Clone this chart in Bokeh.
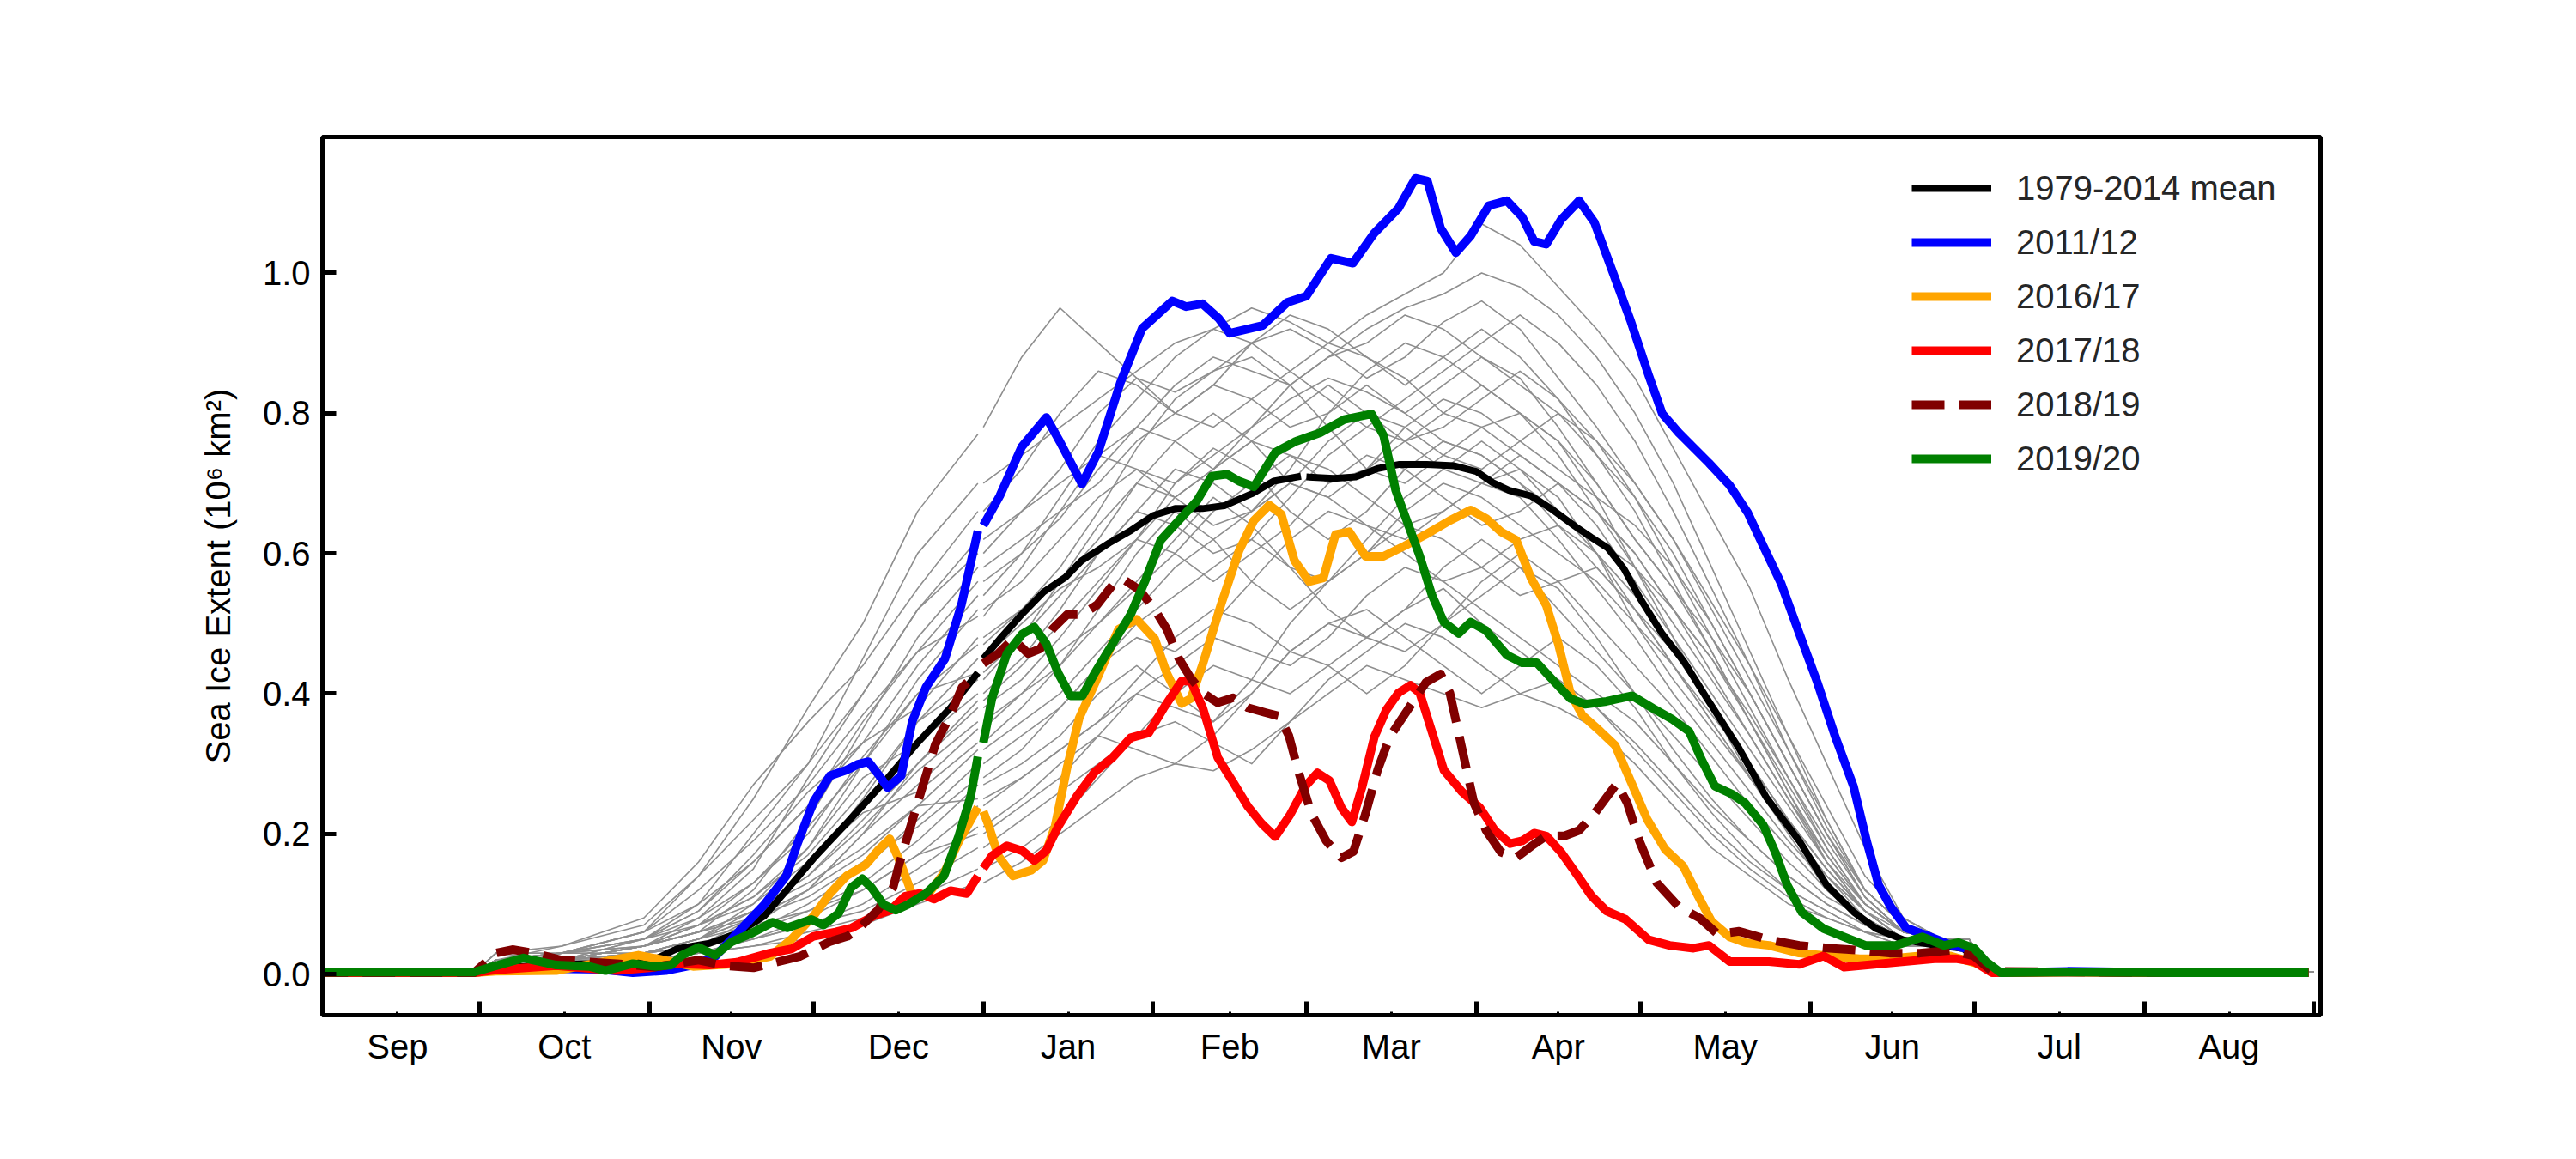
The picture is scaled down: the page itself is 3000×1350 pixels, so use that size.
import numpy as np
from bokeh.plotting import figure
from bokeh.models import Range1d, FixedTicker, PrintfTickFormatter, CustomJSTickFormatter
from bokeh.embed import file_html
from bokeh.resources import INLINE

# ---------------- data (x = days since 1 September) ----------------
MONTHS = ["Sep", "Oct", "Nov", "Dec", "Jan", "Feb", "Mar", "Apr", "May", "Jun", "Jul", "Aug"]
MONTH_LENGTHS = [30, 31, 30, 31, 31, 28, 31, 30, 31, 30, 31, 31]
Y_TICKS = [0.0, 0.2, 0.4, 0.6, 0.8, 1.0]

# 1979-2014 mean (three pieces: Sep-Dec, Jan-Feb, Mar-Aug)
MEAN_D1 = [0, 29, 33, 40, 50, 62, 66, 72, 77, 82, 86, 91, 97, 104, 110, 116, 121]
MEAN_V1 = [0.003, 0.003, 0.008, 0.012, 0.015, 0.021, 0.036, 0.044, 0.058, 0.083, 0.119, 0.165, 0.215, 0.275, 0.33,
           0.38, 0.43]
MEAN_D2 = [122, 125, 129, 133, 137, 140, 145, 149, 153, 157, 162, 166, 171, 175, 180]
MEAN_V2 = [0.450, 0.478, 0.513, 0.545, 0.566, 0.590, 0.615, 0.633, 0.654, 0.664, 0.664, 0.668, 0.685, 0.703, 0.710]
MEAN_D3 = [181, 186, 190, 194, 198, 203, 208, 212, 215, 218, 222, 226, 230, 233, 236, 239, 242, 246, 250, 254,
           260, 265, 271, 276, 281, 285, 290, 296, 301, 303, 306, 320, 340, 364]
MEAN_V3 = [0.709, 0.707, 0.709, 0.721, 0.727, 0.727, 0.725, 0.717, 0.701, 0.690, 0.682, 0.662, 0.639, 0.623, 0.608,
           0.578, 0.535, 0.485, 0.445, 0.395, 0.322, 0.252, 0.190, 0.127, 0.088, 0.065, 0.049, 0.041, 0.037, 0.02,
           0.003, 0.003, 0.002, 0.002]

# 2011/12
Y1112_D1 = [0, 29, 33, 40, 52, 58, 64, 69, 73, 77, 82, 86, 88, 91, 94, 97, 99, 101, 103, 104.5, 107, 109, 111.5, 115,
            118, 121]
Y1112_V1 = [0.002, 0.002, 0.006, 0.008, 0.007, 0.002, 0.005, 0.013, 0.025, 0.058, 0.099, 0.14, 0.185, 0.246, 0.283,
            0.291, 0.299, 0.303, 0.283, 0.266, 0.283, 0.36, 0.409, 0.45, 0.527, 0.632]
Y1112_D2 = [122, 125, 129, 133.5, 136, 140, 143, 147, 151, 156.5, 159, 162, 165, 167, 173, 177.5, 181, 185.5, 189.5,
            193.4, 197.8, 200.9, 203.1, 205.5, 208.3, 211, 214.3, 217.6, 220.4, 222.6, 224.8, 227.5, 230.8, 233.6,
            236.9, 240.2, 243.5, 246, 249, 254.5, 258.3, 261.6, 264.4, 267.7, 271, 274.3, 277.6, 280.9, 283.3, 285.5,
            287.7, 290.5, 294.3, 298.5, 302.9, 305.6, 307.6, 320, 340, 364]
Y1112_V2 = [0.64, 0.682, 0.752, 0.794, 0.759, 0.699, 0.745, 0.843, 0.921, 0.96, 0.952, 0.956, 0.935, 0.914, 0.925,
            0.958, 0.967, 1.021, 1.014, 1.057, 1.092, 1.135, 1.131, 1.064, 1.029, 1.053, 1.096, 1.103, 1.080, 1.045,
            1.041, 1.076, 1.103, 1.072, 1.002, 0.932, 0.854, 0.799, 0.772, 0.729, 0.697, 0.658, 0.611, 0.557, 0.486,
            0.416, 0.338, 0.268, 0.19, 0.127, 0.096, 0.066, 0.055, 0.042, 0.034, 0.01, 0.002, 0.004, 0.002, 0.002]

# 2016/17
Y1617_D1 = [0, 29, 33, 44, 55, 59, 63, 69, 77, 83, 87, 91, 94, 97, 100.5, 102.7, 104.9, 107, 109.3, 112, 114.8,
            117.5, 121]
Y1617_V1 = [0.002, 0.002, 0.004, 0.005, 0.021, 0.027, 0.021, 0.011, 0.015, 0.025, 0.05, 0.083, 0.115, 0.14, 0.156,
            0.176, 0.193, 0.156, 0.107, 0.115, 0.144, 0.189, 0.238]
Y1617_D2 = [122, 123, 124.7, 127.4, 130.7, 132.9, 135.1, 137.3, 139.5, 142.8, 146.7, 150, 153.3, 155.5, 158.2, 159.9,
            162.1, 165.4, 168.7, 171.4, 174.2, 176.4, 178.8, 181.5, 184.1, 186.3, 188.8, 191.8, 195.1, 199, 202.8,
            207.2, 211, 213.8, 216.5, 219.3, 222, 224.8, 227, 229.2, 231.4, 234.7, 237.4, 240.4, 243.2, 246.5, 249.8,
            252.5, 255, 258.3, 261.1, 265.5, 271, 276.5, 282, 287.5, 293, 298.5, 304, 307.8, 320, 340, 364]
Y1617_V2 = [0.232, 0.211, 0.169, 0.14, 0.148, 0.162, 0.211, 0.295, 0.365, 0.422, 0.492, 0.506, 0.478, 0.429, 0.386,
            0.393, 0.443, 0.527, 0.604, 0.647, 0.669, 0.656, 0.59, 0.56, 0.565, 0.627, 0.631, 0.596, 0.596, 0.611,
            0.627, 0.647, 0.662, 0.650, 0.631, 0.619, 0.565, 0.526, 0.471, 0.401, 0.369, 0.346, 0.326, 0.272, 0.221,
            0.178, 0.154, 0.112, 0.075, 0.053, 0.045, 0.041, 0.030, 0.026, 0.022, 0.022, 0.026, 0.026, 0.014, 0.002,
            0.003, 0.002, 0.002]

# 2017/18
Y1718_D1 = [0, 29, 33, 44, 50, 55, 61, 66, 72, 77, 83, 87, 91, 95, 98, 102, 105, 107.7, 110.4, 113, 116, 119, 121]
Y1718_V1 = [0.002, 0.002, 0.006, 0.012, 0.008, 0.005, 0.009, 0.015, 0.013, 0.017, 0.03, 0.036, 0.054, 0.06, 0.066,
            0.083, 0.091, 0.111, 0.115, 0.107, 0.119, 0.115, 0.14]
Y1718_D2 = [122, 123.6, 126.3, 129.1, 131.3, 133.5, 135.7, 139, 142.3, 145.6, 148.9, 152.2, 154.9, 158.2, 159.9,
            162.1, 164.8, 167.6, 170.3, 172.8, 175.3, 178, 180.8, 183, 185.2, 187.4, 189.3, 191.2, 193.4, 195.6,
            197.8, 200, 201.7, 203.9, 206.1, 209.4, 212.7, 215.4, 218.2, 220.4, 222.6, 224.8, 227.5, 230.3, 233,
            235.8, 239.3, 243.5, 247.3, 251.7, 254.5, 258.3, 265.5, 271, 275.4, 279.2, 284.7, 290.2, 295.7, 299.6,
            302.9, 306.2, 320, 340, 364]
Y1718_V2 = [0.151, 0.169, 0.183, 0.176, 0.162, 0.176, 0.211, 0.253, 0.288, 0.309, 0.337, 0.344, 0.379, 0.418, 0.418,
            0.379, 0.309, 0.274, 0.239, 0.215, 0.196, 0.227, 0.268, 0.287, 0.276, 0.237, 0.217, 0.268, 0.338, 0.377,
            0.401, 0.412, 0.401, 0.346, 0.291, 0.260, 0.237, 0.205, 0.186, 0.190, 0.201, 0.197, 0.174, 0.143, 0.112,
            0.090, 0.078, 0.049, 0.041, 0.037, 0.041, 0.018, 0.018, 0.014, 0.026, 0.010, 0.014, 0.018, 0.022, 0.022,
            0.018, 0.002, 0.003, 0.002, 0.002]

# 2018/19
Y1819_D1 = [0, 29, 33, 36, 40, 45, 55, 62, 70, 75, 80, 88.4, 93.9, 97.2, 99.4, 102.7, 105.5, 106.6, 108.8, 111,
            113.2, 115.9, 118.1, 121]
Y1819_V1 = [0.002, 0.002, 0.03, 0.035, 0.03, 0.02, 0.015, 0.01, 0.02, 0.012, 0.009, 0.025, 0.046, 0.054, 0.066,
            0.091, 0.123, 0.156, 0.213, 0.27, 0.327, 0.368, 0.409, 0.43]
Y1819_D2 = [122, 124.7, 127.4, 130.2, 132.4, 134.6, 137.3, 140.1, 142.8, 145.6, 147.8, 150.5, 153.3, 155.5, 157.7,
            159.9, 162.1, 164.8, 167.6, 170.3, 173.5, 176, 177.8, 179.5, 181.9, 184.6, 187.4, 189.6, 191.8, 194,
            196.2, 199.5, 202.8, 205.5, 207.2, 209.4, 211.6, 213.8, 216.5, 219.3, 222, 224.8, 228.1, 230.8, 233.6,
            235.8, 237.7, 239.6, 241.8, 245, 249, 252.8, 256.1, 260, 265.5, 271, 276.5, 282, 287.5, 293, 298.5,
            302.9, 306.2, 320, 340, 364]
Y1819_V2 = [0.443, 0.457, 0.478, 0.457, 0.464, 0.492, 0.513, 0.513, 0.527, 0.555, 0.562, 0.548, 0.520, 0.492, 0.450,
            0.422, 0.401, 0.387, 0.394, 0.380, 0.373, 0.368, 0.34, 0.29, 0.229, 0.190, 0.166, 0.175, 0.229, 0.291,
            0.338, 0.377, 0.416, 0.428, 0.401, 0.322, 0.244, 0.205, 0.174, 0.166, 0.182, 0.197, 0.197, 0.205, 0.229,
            0.252, 0.272, 0.244, 0.19, 0.13, 0.096, 0.080, 0.057, 0.061, 0.049, 0.041, 0.037, 0.034, 0.030, 0.030,
            0.034, 0.026, 0.004, 0.003, 0.002, 0.002]

# 2019/20
Y1920_D1 = [0, 29, 33, 38, 44, 50, 53, 58, 62, 65, 67, 70, 73, 76, 79.6, 83.5, 86.2, 90.6, 92.8, 95.6, 97.8, 99.9,
            101.6, 103.8, 106, 108.2, 111.5, 114.8, 117.5, 119.7, 121]
Y1920_V1 = [0.003, 0.003, 0.012, 0.023, 0.013, 0.011, 0.005, 0.015, 0.011, 0.013, 0.027, 0.038, 0.027, 0.046, 0.058,
            0.074, 0.066, 0.078, 0.07, 0.087, 0.123, 0.136, 0.123, 0.099, 0.091, 0.099, 0.115, 0.14, 0.197, 0.254, 0.31]
Y1920_D2 = [122, 123.6, 126.3, 129.1, 131.3, 133.5, 135.7, 137.9, 140.1, 142.3, 145.6, 148.9, 151.6, 154.4, 157.7,
            161, 163.7, 166.5, 168.7, 171.4, 175.3, 179.1, 183.5, 187.9, 192.9, 195.1, 197.3, 199.5, 201.7, 203.9,
            206.1, 208.8, 211, 213.8, 217.6, 220.4, 223.1, 226.4, 229.2, 231.9, 235.8, 240.5, 244.3, 247.9, 250.9,
            253.1, 255.6, 258.9, 261.1, 264.4, 266.6, 268.8, 271.5, 275.4, 279.2, 283.1, 288.6, 293.5, 297.4, 300.1,
            302.9, 305.1, 307.8, 320, 340, 364]
Y1920_V2 = [0.33, 0.394, 0.457, 0.485, 0.495, 0.471, 0.429, 0.397, 0.397, 0.429, 0.471, 0.513, 0.562, 0.619, 0.647,
            0.675, 0.710, 0.713, 0.703, 0.695, 0.744, 0.760, 0.772, 0.791, 0.799, 0.768, 0.690, 0.643, 0.596, 0.541,
            0.502, 0.486, 0.502, 0.490, 0.455, 0.444, 0.444, 0.416, 0.393, 0.385, 0.389, 0.397, 0.379, 0.363, 0.346,
            0.307, 0.268, 0.256, 0.244, 0.213, 0.174, 0.127, 0.088, 0.065, 0.053, 0.041, 0.041, 0.053, 0.041, 0.045,
            0.037, 0.018, 0.002, 0.003, 0.002, 0.002]

# individual years (grey), Sep-Dec and Jan-Aug
GREY_D1 = [0, 29, 33, 45, 60, 70, 80, 90, 100, 110, 121]
GREY_FALL = [
    [0.002, 0.002, 0.01, 0.03, 0.06, 0.14, 0.25, 0.38, 0.50, 0.66, 0.77],
    [0.002, 0.002, 0.02, 0.03, 0.05, 0.10, 0.20, 0.30, 0.45, 0.60, 0.70],
    [0.002, 0.002, 0.01, 0.02, 0.04, 0.08, 0.15, 0.28, 0.40, 0.52, 0.62],
    [0.002, 0.002, 0.03, 0.02, 0.04, 0.06, 0.12, 0.22, 0.35, 0.48, 0.58],
    [0.002, 0.002, 0.01, 0.02, 0.03, 0.05, 0.10, 0.18, 0.30, 0.42, 0.52],
    [0.002, 0.002, 0.02, 0.03, 0.05, 0.09, 0.17, 0.26, 0.33, 0.38, 0.48],
    [0.002, 0.002, 0.01, 0.02, 0.02, 0.04, 0.08, 0.15, 0.25, 0.36, 0.45],
    [0.002, 0.002, 0.02, 0.02, 0.04, 0.07, 0.11, 0.18, 0.28, 0.33, 0.40],
    [0.002, 0.002, 0.01, 0.01, 0.03, 0.05, 0.09, 0.14, 0.22, 0.30, 0.38],
    [0.002, 0.002, 0.02, 0.03, 0.04, 0.06, 0.08, 0.12, 0.20, 0.27, 0.35],
    [0.002, 0.002, 0.01, 0.02, 0.03, 0.04, 0.07, 0.12, 0.17, 0.24, 0.32],
    [0.002, 0.002, 0.01, 0.01, 0.02, 0.04, 0.06, 0.10, 0.15, 0.22, 0.30],
    [0.002, 0.002, 0.02, 0.02, 0.03, 0.05, 0.07, 0.09, 0.13, 0.19, 0.27],
    [0.002, 0.002, 0.01, 0.02, 0.02, 0.03, 0.05, 0.08, 0.12, 0.17, 0.24],
    [0.002, 0.002, 0.01, 0.01, 0.02, 0.03, 0.05, 0.07, 0.10, 0.15, 0.21],
    [0.002, 0.002, 0.02, 0.03, 0.03, 0.04, 0.05, 0.07, 0.09, 0.13, 0.18],
    [0.002, 0.002, 0.01, 0.01, 0.02, 0.03, 0.04, 0.06, 0.08, 0.11, 0.15],
    [0.002, 0.002, 0.01, 0.02, 0.02, 0.03, 0.04, 0.05, 0.07, 0.10, 0.13],
    [0.002, 0.002, 0.01, 0.02, 0.05, 0.09, 0.16, 0.24, 0.36, 0.46, 0.56],
    [0.002, 0.002, 0.02, 0.02, 0.04, 0.07, 0.13, 0.21, 0.30, 0.40, 0.43],
    [0.002, 0.002, 0.02, 0.04, 0.08, 0.16, 0.27, 0.36, 0.44, 0.55, 0.66],
    [0.002, 0.002, 0.03, 0.03, 0.06, 0.12, 0.19, 0.27, 0.37, 0.46, 0.51],
    [0.002, 0.002, 0.01, 0.02, 0.05, 0.08, 0.13, 0.20, 0.31, 0.40, 0.47],
    [0.002, 0.002, 0.02, 0.03, 0.04, 0.07, 0.11, 0.17, 0.26, 0.36, 0.42],
    [0.002, 0.002, 0.01, 0.02, 0.04, 0.06, 0.09, 0.14, 0.21, 0.29, 0.36],
    [0.002, 0.002, 0.02, 0.03, 0.05, 0.07, 0.10, 0.16, 0.23, 0.26, 0.33],
    [0.002, 0.002, 0.01, 0.02, 0.03, 0.05, 0.08, 0.11, 0.16, 0.21, 0.28],
    [0.002, 0.002, 0.02, 0.02, 0.04, 0.06, 0.09, 0.13, 0.18, 0.24, 0.25],
    [0.002, 0.002, 0.03, 0.04, 0.07, 0.14, 0.22, 0.30, 0.40, 0.52, 0.60],
    [0.002, 0.002, 0.01, 0.02, 0.03, 0.04, 0.06, 0.09, 0.12, 0.17, 0.20],
    [0.002, 0.002, 0.02, 0.03, 0.06, 0.10, 0.16, 0.24, 0.33, 0.44, 0.54],
    [0.002, 0.002, 0.02, 0.02, 0.03, 0.05, 0.08, 0.12, 0.20, 0.30, 0.39],
]
GREY_D2 = [122, 129, 136, 143, 150, 157, 164, 171, 178, 185, 192, 199, 206, 213, 220, 227, 234, 241, 248, 255,
           262, 269, 276, 283, 290, 297, 302, 306, 365]
GREY_SPRING = [
    [0.78, 0.88, 0.95, 0.90, 0.85, 0.80, 0.78, 0.82, 0.86, 0.90, 0.88, 0.85, 0.80, 0.78, 0.74, 0.70, 0.66, 0.60, 0.52, 0.45, 0.36, 0.27, 0.18, 0.10, 0.06, 0.05, 0.04, 0.003, 0.003],
    [0.70, 0.74, 0.78, 0.82, 0.86, 0.90, 0.92, 0.95, 0.93, 0.90, 0.94, 0.97, 1.00, 1.07, 1.04, 0.98, 0.92, 0.85, 0.75, 0.65, 0.55, 0.42, 0.30, 0.18, 0.08, 0.05, 0.05, 0.004, 0.003],
    [0.62, 0.66, 0.72, 0.80, 0.85, 0.83, 0.86, 0.90, 0.92, 0.89, 0.85, 0.88, 0.93, 0.96, 0.92, 0.85, 0.78, 0.70, 0.62, 0.52, 0.42, 0.32, 0.22, 0.12, 0.07, 0.05, 0.05, 0.003, 0.003],
    [0.58, 0.62, 0.66, 0.70, 0.76, 0.80, 0.84, 0.82, 0.78, 0.80, 0.86, 0.90, 0.88, 0.84, 0.80, 0.76, 0.70, 0.62, 0.55, 0.46, 0.36, 0.26, 0.16, 0.09, 0.05, 0.04, 0.04, 0.003, 0.003],
    [0.52, 0.56, 0.62, 0.68, 0.72, 0.70, 0.74, 0.78, 0.82, 0.85, 0.83, 0.80, 0.84, 0.88, 0.85, 0.78, 0.70, 0.62, 0.55, 0.48, 0.40, 0.30, 0.20, 0.11, 0.06, 0.05, 0.04, 0.003, 0.003],
    [0.48, 0.52, 0.58, 0.66, 0.75, 0.82, 0.86, 0.88, 0.84, 0.78, 0.72, 0.70, 0.74, 0.78, 0.80, 0.76, 0.68, 0.58, 0.48, 0.38, 0.28, 0.20, 0.12, 0.07, 0.05, 0.04, 0.04, 0.003, 0.003],
    [0.45, 0.50, 0.55, 0.58, 0.62, 0.68, 0.72, 0.76, 0.74, 0.70, 0.72, 0.78, 0.82, 0.80, 0.76, 0.72, 0.68, 0.64, 0.58, 0.50, 0.40, 0.30, 0.20, 0.12, 0.07, 0.05, 0.04, 0.003, 0.003],
    [0.40, 0.45, 0.52, 0.60, 0.66, 0.64, 0.60, 0.62, 0.68, 0.74, 0.78, 0.76, 0.72, 0.70, 0.74, 0.70, 0.64, 0.56, 0.48, 0.40, 0.32, 0.24, 0.16, 0.10, 0.06, 0.05, 0.05, 0.003, 0.003],
    [0.38, 0.42, 0.48, 0.55, 0.62, 0.70, 0.75, 0.72, 0.66, 0.62, 0.66, 0.72, 0.76, 0.74, 0.70, 0.66, 0.62, 0.58, 0.52, 0.45, 0.37, 0.28, 0.19, 0.11, 0.06, 0.05, 0.04, 0.003, 0.003],
    [0.35, 0.40, 0.46, 0.50, 0.55, 0.60, 0.66, 0.70, 0.74, 0.72, 0.68, 0.64, 0.66, 0.70, 0.72, 0.68, 0.60, 0.50, 0.42, 0.35, 0.28, 0.21, 0.14, 0.08, 0.05, 0.04, 0.04, 0.003, 0.003],
    [0.32, 0.36, 0.40, 0.46, 0.52, 0.58, 0.62, 0.66, 0.70, 0.68, 0.64, 0.62, 0.66, 0.70, 0.68, 0.62, 0.55, 0.48, 0.40, 0.33, 0.26, 0.19, 0.13, 0.08, 0.05, 0.04, 0.04, 0.003, 0.003],
    [0.30, 0.34, 0.38, 0.44, 0.48, 0.46, 0.50, 0.56, 0.62, 0.66, 0.64, 0.60, 0.56, 0.58, 0.62, 0.64, 0.60, 0.54, 0.46, 0.38, 0.30, 0.22, 0.15, 0.09, 0.05, 0.04, 0.04, 0.003, 0.003],
    [0.27, 0.30, 0.34, 0.40, 0.44, 0.40, 0.36, 0.42, 0.50, 0.56, 0.60, 0.64, 0.62, 0.58, 0.54, 0.56, 0.58, 0.52, 0.44, 0.36, 0.28, 0.21, 0.14, 0.09, 0.05, 0.04, 0.04, 0.003, 0.003],
    [0.24, 0.28, 0.32, 0.36, 0.40, 0.44, 0.48, 0.46, 0.44, 0.48, 0.54, 0.58, 0.56, 0.52, 0.48, 0.44, 0.40, 0.36, 0.30, 0.24, 0.19, 0.14, 0.10, 0.07, 0.05, 0.04, 0.04, 0.003, 0.003],
    [0.21, 0.25, 0.30, 0.34, 0.32, 0.30, 0.34, 0.40, 0.46, 0.50, 0.48, 0.46, 0.50, 0.54, 0.58, 0.55, 0.48, 0.40, 0.32, 0.25, 0.19, 0.14, 0.10, 0.07, 0.05, 0.04, 0.04, 0.003, 0.003],
    [0.18, 0.22, 0.26, 0.30, 0.34, 0.36, 0.33, 0.30, 0.36, 0.42, 0.46, 0.50, 0.48, 0.44, 0.40, 0.38, 0.35, 0.30, 0.24, 0.18, 0.14, 0.10, 0.08, 0.06, 0.05, 0.04, 0.04, 0.003, 0.003],
    [0.15, 0.18, 0.22, 0.28, 0.34, 0.40, 0.44, 0.42, 0.40, 0.44, 0.48, 0.52, 0.55, 0.50, 0.46, 0.42, 0.38, 0.33, 0.27, 0.21, 0.16, 0.12, 0.09, 0.06, 0.05, 0.04, 0.04, 0.003, 0.003],
    [0.13, 0.16, 0.20, 0.24, 0.28, 0.30, 0.29, 0.32, 0.36, 0.40, 0.44, 0.42, 0.40, 0.38, 0.40, 0.42, 0.38, 0.32, 0.26, 0.20, 0.15, 0.11, 0.08, 0.06, 0.04, 0.04, 0.03, 0.003, 0.003],
    [0.56, 0.60, 0.65, 0.72, 0.78, 0.84, 0.88, 0.86, 0.84, 0.88, 0.92, 0.95, 0.97, 1.00, 0.98, 0.94, 0.88, 0.80, 0.70, 0.58, 0.46, 0.34, 0.22, 0.12, 0.07, 0.05, 0.05, 0.003, 0.003],
    [0.43, 0.48, 0.54, 0.60, 0.66, 0.72, 0.70, 0.66, 0.70, 0.76, 0.80, 0.78, 0.74, 0.72, 0.76, 0.80, 0.76, 0.70, 0.62, 0.53, 0.44, 0.34, 0.24, 0.14, 0.08, 0.05, 0.05, 0.003, 0.003],
    [0.66, 0.72, 0.80, 0.86, 0.84, 0.80, 0.84, 0.90, 0.94, 0.92, 0.88, 0.84, 0.88, 0.92, 0.88, 0.82, 0.76, 0.68, 0.58, 0.48, 0.38, 0.28, 0.18, 0.10, 0.06, 0.05, 0.04, 0.003, 0.003],
    [0.51, 0.58, 0.66, 0.74, 0.78, 0.76, 0.72, 0.76, 0.80, 0.84, 0.80, 0.76, 0.78, 0.82, 0.86, 0.82, 0.74, 0.66, 0.56, 0.46, 0.36, 0.26, 0.17, 0.10, 0.06, 0.05, 0.04, 0.003, 0.003],
    [0.47, 0.52, 0.56, 0.62, 0.70, 0.76, 0.80, 0.76, 0.70, 0.68, 0.72, 0.76, 0.80, 0.84, 0.80, 0.74, 0.66, 0.58, 0.50, 0.42, 0.34, 0.25, 0.16, 0.09, 0.05, 0.04, 0.04, 0.003, 0.003],
    [0.42, 0.48, 0.56, 0.64, 0.70, 0.68, 0.64, 0.66, 0.72, 0.80, 0.84, 0.80, 0.76, 0.74, 0.70, 0.64, 0.58, 0.52, 0.46, 0.38, 0.30, 0.22, 0.15, 0.09, 0.06, 0.05, 0.04, 0.003, 0.003],
    [0.36, 0.40, 0.44, 0.50, 0.56, 0.62, 0.68, 0.64, 0.58, 0.56, 0.60, 0.66, 0.70, 0.68, 0.64, 0.60, 0.56, 0.50, 0.44, 0.37, 0.30, 0.22, 0.15, 0.09, 0.05, 0.04, 0.04, 0.003, 0.003],
    [0.33, 0.38, 0.44, 0.52, 0.60, 0.66, 0.62, 0.56, 0.52, 0.56, 0.62, 0.68, 0.72, 0.76, 0.72, 0.66, 0.60, 0.52, 0.44, 0.36, 0.28, 0.21, 0.14, 0.09, 0.05, 0.04, 0.04, 0.003, 0.003],
    [0.28, 0.32, 0.38, 0.44, 0.50, 0.54, 0.58, 0.62, 0.58, 0.52, 0.48, 0.52, 0.58, 0.62, 0.58, 0.52, 0.46, 0.40, 0.34, 0.28, 0.22, 0.16, 0.11, 0.08, 0.05, 0.04, 0.04, 0.003, 0.003],
    [0.25, 0.28, 0.32, 0.36, 0.42, 0.48, 0.52, 0.50, 0.46, 0.44, 0.40, 0.44, 0.50, 0.56, 0.60, 0.56, 0.50, 0.44, 0.38, 0.31, 0.24, 0.18, 0.12, 0.08, 0.05, 0.04, 0.04, 0.003, 0.003],
    [0.60, 0.66, 0.70, 0.74, 0.72, 0.68, 0.72, 0.78, 0.84, 0.88, 0.90, 0.94, 0.92, 0.88, 0.84, 0.80, 0.74, 0.68, 0.60, 0.50, 0.40, 0.30, 0.20, 0.11, 0.06, 0.05, 0.05, 0.003, 0.003],
    [0.20, 0.24, 0.28, 0.34, 0.40, 0.38, 0.36, 0.40, 0.46, 0.50, 0.52, 0.48, 0.44, 0.40, 0.44, 0.48, 0.44, 0.38, 0.30, 0.23, 0.17, 0.12, 0.09, 0.06, 0.04, 0.04, 0.03, 0.003, 0.003],
    [0.54, 0.60, 0.68, 0.76, 0.82, 0.88, 0.92, 0.90, 0.86, 0.82, 0.78, 0.82, 0.86, 0.90, 0.94, 0.90, 0.84, 0.76, 0.66, 0.55, 0.44, 0.32, 0.21, 0.12, 0.07, 0.05, 0.05, 0.003, 0.003],
    [0.39, 0.44, 0.50, 0.56, 0.62, 0.60, 0.56, 0.60, 0.64, 0.70, 0.74, 0.72, 0.68, 0.64, 0.66, 0.70, 0.66, 0.60, 0.52, 0.43, 0.34, 0.25, 0.17, 0.10, 0.06, 0.05, 0.04, 0.003, 0.003],
]

SERIES = [
    ("1979-2014 mean", "black", [(MEAN_D1, MEAN_V1), (MEAN_D2, MEAN_V2), (MEAN_D3, MEAN_V3)], False),
    ("2011/12", "#0000ff", [(Y1112_D1, Y1112_V1), (Y1112_D2, Y1112_V2)], False),
    ("2016/17", "#ffa500", [(Y1617_D1, Y1617_V1), (Y1617_D2, Y1617_V2)], False),
    ("2017/18", "#ff0000", [(Y1718_D1, Y1718_V1), (Y1718_D2, Y1718_V2)], False),
    ("2018/19", "#800000", [(Y1819_D1, Y1819_V1), (Y1819_D2, Y1819_V2)], True),
    ("2019/20", "#008000", [(Y1920_D1, Y1920_V1), (Y1920_D2, Y1920_V2)], False),
]

FONT = "Liberation Sans"

# ---------------- figure ----------------
p = figure(width=2984, height=1334, output_backend="svg", toolbar_location=None,
           x_range=Range1d(1.3, 366.2), y_range=Range1d(-0.0586, 1.194),
           min_border_left=375, min_border_right=282, min_border_top=159, min_border_bottom=152)
p.background_fill_color = "white"
p.border_fill_color = "white"
p.outline_line_color = "black"
p.outline_line_width = 5
p.xgrid.visible = False
p.ygrid.visible = False

# grey years
grey_xs = [GREY_D1] * len(GREY_FALL) + [GREY_D2] * len(GREY_SPRING)
grey_ys = GREY_FALL + GREY_SPRING
p.multi_line(xs=grey_xs, ys=grey_ys, line_color="#8e8e8e", line_width=1.6, line_join="round")

for name, color, pieces, dashed in SERIES:
    xs = [list(d) for d, v in pieces]
    ys = [list(v) for d, v in pieces]
    kw = dict(line_color=color, line_width=8 if color == "black" else 10, line_join="round",
              line_cap="butt", legend_label=name)
    if dashed:
        kw["line_dash"] = "38 17"
    p.multi_line(xs=xs, ys=ys, **kw)

# x axis: month boundaries (long ticks) and month names centred
bounds = np.concatenate([[0], np.cumsum(MONTH_LENGTHS)]).astype(float)
mids = (bounds[:-1] + bounds[1:]) / 2.0
xa = p.xaxis[0]
xa.ticker = FixedTicker(ticks=list(mids), minor_ticks=list(bounds))
xa.formatter = CustomJSTickFormatter(args=dict(names=MONTHS, mids=list(mids)), code="""
    for (let i = 0; i < mids.length; i++) { if (Math.abs(mids[i] - tick) < 0.01) return names[i]; }
    return '';
""")
xa.major_tick_in = 4
xa.major_tick_out = 0
xa.major_tick_line_width = 3
xa.minor_tick_in = 16
xa.minor_tick_out = 0
xa.minor_tick_line_width = 5
xa.axis_line_width = 5
xa.major_label_text_font = FONT
xa.major_label_text_font_size = "40px"
xa.major_label_text_color = "black"
xa.major_label_standoff = 14

ya = p.yaxis[0]
ya.ticker = FixedTicker(ticks=Y_TICKS)
ya.formatter = PrintfTickFormatter(format="%.1f")
ya.major_tick_in = 16
ya.major_tick_out = 0
ya.major_tick_line_width = 5
ya.minor_tick_line_color = None
ya.axis_line_width = 5
ya.major_label_text_font = FONT
ya.major_label_text_font_size = "40px"
ya.major_label_text_color = "black"
ya.major_label_standoff = 14
ya.axis_label = "Sea Ice Extent (10\u2076 km\u00b2)"
ya.axis_label_text_font = FONT
ya.axis_label_text_font_size = "40px"
ya.axis_label_text_font_style = "normal"
ya.axis_label_text_color = "black"
ya.axis_label_standoff = 27

lg = p.legend[0]
lg.location = (1851, 625)
lg.label_text_font = FONT
lg.label_text_font_size = "40px"
lg.label_text_color = "#262626"
lg.glyph_width = 93
lg.glyph_height = 46
lg.label_height = 46
lg.label_standoff = 29
lg.spacing = 17
lg.padding = 0
lg.margin = 0
lg.border_line_color = None
lg.background_fill_alpha = 0

open("out.html", "w").write(file_html(p, INLINE))
